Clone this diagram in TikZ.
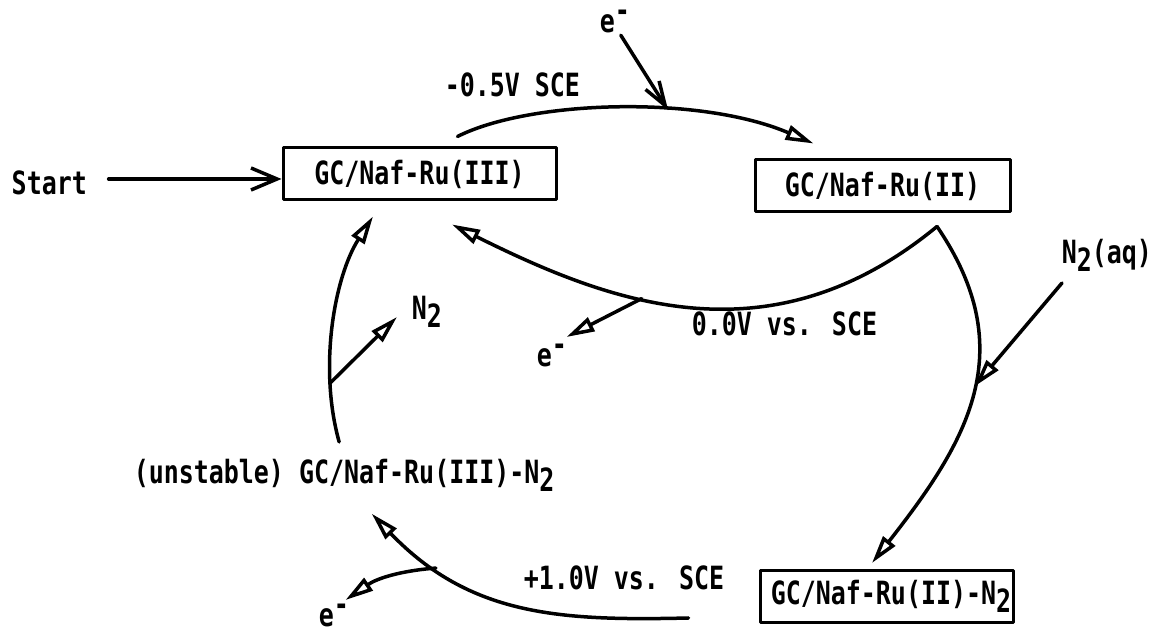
\documentclass[tikz,border=0pt]{standalone}
\usepackage{fontspec}
\newfontfamily\twfont{DejaVu Sans Mono}[FakeStretch=0.78]
\usetikzlibrary{arrows.meta,calc}
\newcommand\subtwo{\raisebox{-8pt}{2}}
\newcommand\eminus{e\raisebox{11pt}{-}}
\begin{document}
\begin{tikzpicture}[x=1pt,y=1pt,line width=3.5pt,line cap=round,line join=round,
  font=\twfont\bfseries\fontsize{32}{36}\selectfont,
  lbl/.style={inner sep=0pt,anchor=base west},
  boxn/.style={draw,line width=3pt,minimum height=52pt,inner sep=0pt},
  tri/.style={-{Triangle[open,length=28pt,width=15pt]}},
  barb/.style={-{Straight Barb[length=26pt,width=22pt]}},
  ebarb/.style={-{Straight Barb[length=24pt,width=16pt]}}]
\useasboundingbox[fill=white] (0,0) rectangle (1165,636);
% labels
\node[lbl] (start) at (10,441) {Start};
\node[lbl] (lblA) at (443,539) {-0.5V SCE};
\node[lbl] (eTop) at (598,603) {\eminus};
\node[lbl] (lblB) at (690,300) {0.0V vs. SCE};
\node[lbl] (nAq) at (1060,372) {N\subtwo(aq)};
\node[lbl] (nTwo) at (410,316) {N\subtwo};
\node[lbl] (eMid) at (535,269) {\eminus};
\node[lbl] (unst) at (132,152) {(unstable) GC/Naf-Ru(III)-N\subtwo};
\node[lbl] (lblC) at (522,46) {+1.0V vs. SCE};
\node[lbl] (eBot) at (317,9) {\eminus};
% boxes
\node[boxn,minimum width=273pt] (b1) at (419.5,462) {GC/Naf-Ru(III)};
\node[boxn,minimum width=255pt] (b2) at (882.5,450) {GC/Naf-Ru(II)};
\node[boxn,minimum width=253pt] (b3) at (886.5,39.5) {\hspace*{9pt}GC/Naf-Ru(II)-N\subtwo};
% start arrow
\draw[barb] ([shift={(20,16)}]start.base east) -- ([yshift=-5pt]b1.west);
% top arc (-0.5V)
\coordinate (a1) at ([shift={(38,10)}]b1.north);
\coordinate (a2) at ([shift={(60,15)}]b2.north west);
\draw[tri] (a1) .. controls (530,536) and (700,541) .. (a2) coordinate[pos=0.62] (eIn);
\draw[ebarb] ([xshift=6pt]eTop.south) -- (eIn);
% 0.0V arc
\coordinate (v) at ([shift={(54.5,-13)}]b2.south);
\coordinate (c1) at ([shift={(32.5,-23)}]b1.south);
\draw[tri] (v) .. controls (769,271) and (608,334) .. (c1) coordinate[pos=0.6] (m1);
\draw[tri] (m1) -- ([shift={(-2,30)}]eMid.base east);
% right arc
\coordinate (r2) at ([shift={(-14.5,6)}]b3.north);
\draw[tri] (v) .. controls (1022,285) and (967,194) .. (r2) coordinate[pos=0.47] (r1);
\draw[tri] ([shift={(2,-19)}]nAq.base west) -- (r1);
% left arc
\coordinate (l0) at ([shift={(-5,16)}]unst.north);
\coordinate (l1) at ([shift={(-46.5,-15)}]b1.south);
\draw[tri] (l0) .. controls (318,270) and (335,360) .. (l1) coordinate[pos=0.25] (lb);
\draw[tri] (lb) -- ([shift={(-13,3)}]nTwo.base west);
% bottom arc
\coordinate (d0) at ([shift={(-70,-21.5)}]b3.west);
\coordinate (d1) at ([shift={(27.6,-20)}]unst.south);
\draw[tri] (d0) .. controls (560,15) and (470,20) .. (d1) coordinate[pos=0.78] (bb);
\draw[tri] (bb) to[bend right=15] ([shift={(-5,27)}]eBot.base east);
\end{tikzpicture}
\end{document}
